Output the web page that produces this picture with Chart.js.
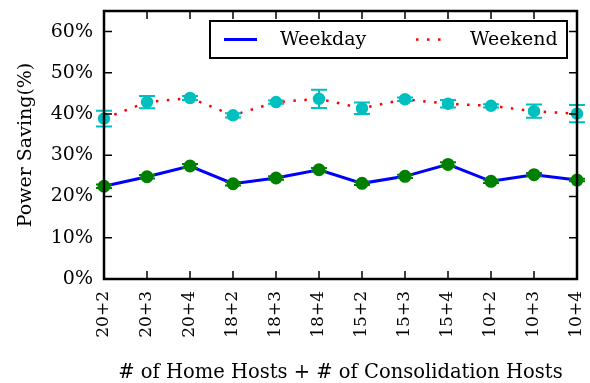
<!DOCTYPE html>
<html>
<head>
<meta charset="utf-8">
<script src="https://cdn.jsdelivr.net/npm/chart.js@4/dist/chart.umd.min.js"></script>
<style>
  html, body { margin: 0; padding: 0; background: #fff; }
  #wrap { width: 590px; height: 383px; }
</style>
</head>
<body>
<div id="wrap"><canvas id="c" width="590" height="383"></canvas></div>
<script>
// Host configurations: home hosts + consolidation hosts
const categories = ['20+2', '20+3', '20+4', '18+2', '18+3', '18+4', '15+2', '15+3', '15+4', '10+2', '10+3', '10+4'];

// Mean power saving (%) and error bar half-widths
const weekday    = [22.5, 24.8, 27.4, 23.1, 24.5, 26.5, 23.2, 24.9, 27.8, 23.7, 25.3, 24.0];
const weekdayErr = [0.4, 0.4, 0.5, 0.4, 0.4, 0.4, 0.4, 0.4, 0.5, 0.4, 0.4, 0.3];
const weekend    = [38.9, 42.9, 43.9, 39.7, 42.9, 43.7, 41.4, 43.6, 42.5, 42.0, 40.7, 40.1];
const weekendErr = [1.9, 1.5, 0.5, 0.5, 0.4, 2.2, 1.4, 0.4, 0.9, 0.4, 1.6, 2.1];

const yTicks = [0, 10, 20, 30, 40, 50, 60];
const yMax = 65;

const SERIF = '"DejaVu Serif", "Liberation Serif", serif';

// Error bars with caps, drawn through the chart's own scales
const errorBars = {
  id: 'errorBars',
  afterDatasetsDraw(chart) {
    const { ctx, scales: { x, y } } = chart;
    chart.data.datasets.forEach((ds) => {
      ctx.save();
      ctx.strokeStyle = ds.pointBackgroundColor;
      ctx.lineWidth = 2;
      ds.data.forEach((v, i) => {
        const e = ds.errors[i];
        const px = x.getPixelForValue(i);
        const top = y.getPixelForValue(v + e);
        const bot = y.getPixelForValue(v - e);
        ctx.beginPath();
        ctx.moveTo(px, top); ctx.lineTo(px, bot);
        ctx.moveTo(px - 8, top); ctx.lineTo(px + 8, top);
        ctx.moveTo(px - 8, bot); ctx.lineTo(px + 8, bot);
        ctx.stroke();
      });
      ctx.restore();
    });
  }
};

// Frame with inward ticks on all four sides, plus a boxed legend
const frame = {
  id: 'frame',
  afterDraw(chart) {
    const { ctx, chartArea: a, scales: { x, y } } = chart;
    ctx.save();
    ctx.strokeStyle = '#000';
    ctx.lineWidth = 1.5;
    ctx.beginPath();
    yTicks.forEach((t) => {
      const py = y.getPixelForValue(t);
      ctx.moveTo(a.left, py); ctx.lineTo(a.left + 8, py);
      ctx.moveTo(a.right, py); ctx.lineTo(a.right - 8, py);
    });
    categories.forEach((c, i) => {
      const px = x.getPixelForValue(i);
      ctx.moveTo(px, a.bottom); ctx.lineTo(px, a.bottom - 8);
      ctx.moveTo(px, a.top); ctx.lineTo(px, a.top + 8);
    });
    ctx.stroke();
    ctx.lineWidth = 2.5;
    ctx.strokeRect(a.left, a.top, a.right - a.left, a.bottom - a.top);

    // legend
    const lx = a.left + 106, ly = a.top + 10, lw = 357, lh = 37;
    ctx.fillStyle = '#fff';
    ctx.fillRect(lx, ly, lw, lh);
    ctx.lineWidth = 2;
    ctx.strokeRect(lx, ly, lw, lh);
    const my = ly + lh / 2;
    ctx.strokeStyle = '#0000ff';
    ctx.lineWidth = 3;
    ctx.beginPath(); ctx.moveTo(lx + 14, my); ctx.lineTo(lx + 47, my); ctx.stroke();
    ctx.fillStyle = '#ff0000';
    [0, 11, 22].forEach((d) => ctx.fillRect(lx + 206 + d, my - 1.2, 2.5, 2.5));
    ctx.fillStyle = '#000';
    ctx.font = '19px ' + SERIF;
    ctx.textBaseline = 'middle';
    ctx.textAlign = 'left';
    ctx.fillText('Weekday', lx + 70, my + 1);
    ctx.fillText('Weekend', lx + 260, my + 1);
    ctx.restore();
  }
};

new Chart(document.getElementById('c'), {
  type: 'line',
  data: {
    labels: categories,
    datasets: [
      {
        label: 'Weekday',
        data: weekday,
        errors: weekdayErr,
        borderColor: '#0000ff',
        borderWidth: 3,
        pointBackgroundColor: '#008000',
        pointBorderColor: '#008000',
        pointRadius: 5,
        tension: 0,
        fill: false
      },
      {
        label: 'Weekend',
        data: weekend,
        errors: weekendErr,
        borderColor: '#ff0000',
        borderWidth: 2.5,
        borderDash: [2.5, 8.5],
        borderCapStyle: 'butt',
        pointBackgroundColor: '#00bfbf',
        pointBorderColor: '#00bfbf',
        pointRadius: 5,
        tension: 0,
        fill: false
      }
    ]
  },
  options: {
    responsive: false,
    animation: false,
    layout: { padding: { top: 11, right: 13, left: 0, bottom: 0 } },
    plugins: { legend: { display: false }, tooltip: { enabled: false } },
    scales: {
      x: {
        offset: false,
        grid: { display: false, drawTicks: false },
        border: { display: false },
        ticks: {
          color: '#000',
          font: { family: SERIF, size: 17 },
          maxRotation: 90, minRotation: 90,
          padding: 12,
          autoSkip: false
        },
        title: {
          display: true,
          text: '# of Home Hosts + # of Consolidation Hosts',
          color: '#000',
          font: { family: SERIF, size: 19.5 },
          padding: { top: 0, bottom: -2 }
        },
        afterFit(s) { s.height = 104; s.paddingLeft = 0; s.paddingRight = 0; }
      },
      y: {
        min: 0,
        max: yMax,
        grid: { display: false, drawTicks: false },
        border: { display: false },
        afterBuildTicks(s) { s.ticks = yTicks.map((v) => ({ value: v })); },
        ticks: {
          color: '#000',
          font: { family: SERIF, size: 19 },
          padding: 11,
          callback: (v) => v + '%'
        },
        title: {
          display: true,
          text: 'Power Saving(%)',
          color: '#000',
          font: { family: SERIF, size: 19 },
          padding: { top: 15, bottom: 0 }
        },
        afterFit(s) { s.width = 104; s.paddingTop = 0; s.paddingBottom = 0; }
      }
    }
  },
  plugins: [errorBars, frame]
});
</script>
</body>
</html>
